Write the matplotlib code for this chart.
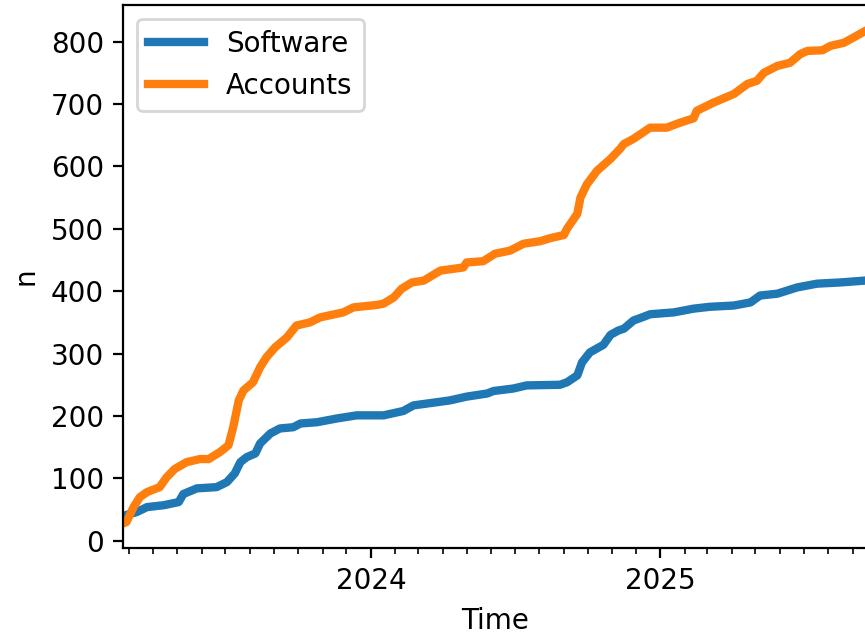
import matplotlib
matplotlib.use('Agg')
import matplotlib.pyplot as plt
import matplotlib.dates as mdates
import pandas as pd

# values (cumulative counts)
software_dates = ['2023-02-22', '2023-03-11', '2023-03-24', '2023-04-14', '2023-05-03',
                  '2023-05-09', '2023-05-26', '2023-06-20', '2023-07-03', '2023-07-13',
                  '2023-07-20', '2023-07-28', '2023-08-08', '2023-08-14', '2023-08-27',
                  '2023-09-08', '2023-09-25', '2023-10-04', '2023-10-25', '2023-11-19',
                  '2023-12-14', '2024-01-17', '2024-02-11', '2024-02-24', '2024-03-24',
                  '2024-04-10', '2024-05-01', '2024-05-27', '2024-06-04', '2024-06-29',
                  '2024-07-16', '2024-08-27', '2024-09-05', '2024-09-18', '2024-09-24',
                  '2024-10-04', '2024-10-21', '2024-10-30', '2024-11-09', '2024-11-16',
                  '2024-11-28', '2024-12-11', '2024-12-19', '2025-01-18', '2025-02-12',
                  '2025-03-05', '2025-04-04', '2025-04-25', '2025-05-07', '2025-05-29',
                  '2025-06-23', '2025-07-18', '2025-08-17', '2025-09-17', '2025-09-20']
software_n = [40, 46, 54, 57, 62,
              75, 84, 86, 94, 108,
              126, 134, 140, 156, 172,
              180, 182, 188, 190, 196,
              201, 201, 208, 217, 222,
              225, 231, 236, 240, 244,
              249, 250, 254, 265, 286,
              302, 314, 330, 337, 340,
              353, 359, 363, 366, 372,
              375, 377, 382, 393, 396,
              406, 412, 414, 417, 418]

accounts_dates = ['2023-02-22', '2023-02-26', '2023-03-07', '2023-03-15', '2023-03-24',
                  '2023-04-09', '2023-04-18', '2023-04-28', '2023-05-13', '2023-05-30',
                  '2023-06-10', '2023-06-24', '2023-07-05', '2023-07-11', '2023-07-18',
                  '2023-07-24', '2023-08-05', '2023-08-14', '2023-08-22', '2023-09-02',
                  '2023-09-17', '2023-09-29', '2023-10-16', '2023-10-29', '2023-11-27',
                  '2023-12-10', '2024-01-09', '2024-01-17', '2024-01-30', '2024-02-09',
                  '2024-02-22', '2024-03-08', '2024-03-29', '2024-04-27', '2024-05-01',
                  '2024-05-22', '2024-06-06', '2024-06-25', '2024-07-12', '2024-08-02',
                  '2024-08-15', '2024-09-01', '2024-09-05', '2024-09-18', '2024-09-22',
                  '2024-09-30', '2024-10-13', '2024-10-30', '2024-11-11', '2024-11-16',
                  '2024-11-28', '2024-12-19', '2025-01-09', '2025-01-26', '2025-02-12',
                  '2025-02-16', '2025-03-09', '2025-04-04', '2025-04-21', '2025-05-03',
                  '2025-05-12', '2025-05-29', '2025-06-14', '2025-06-27', '2025-07-06',
                  '2025-07-25', '2025-08-04', '2025-08-21', '2025-09-03', '2025-09-17',
                  '2025-09-20']
accounts_n = [28, 30, 54, 70, 78,
              86, 102, 115, 126, 131,
              131, 142, 153, 182, 225,
              241, 254, 278, 294, 310,
              326, 345, 350, 358, 366,
              374, 378, 380, 390, 404,
              414, 417, 433, 438, 446,
              448, 460, 465, 476, 480,
              485, 490, 500, 524, 550,
              571, 593, 612, 628, 636,
              644, 662, 662, 670, 677,
              689, 702, 716, 732, 737,
              750, 761, 766, 780, 785,
              786, 793, 798, 807, 817,
              819]

software_t = pd.to_datetime(software_dates)
accounts_t = pd.to_datetime(accounts_dates)

fig = plt.figure(figsize=(865 / 200, 632 / 200), dpi=200)
# axes runs a little past the right edge, like the cropped original
ax = fig.add_axes([0.1425, 0.1329, 0.8605, 0.8592])

ax.plot(software_t, software_n, color='tab:blue', lw=3, label='Software')
ax.plot(accounts_t, accounts_n, color='tab:orange', lw=3, label='Accounts')

ax.set_xlim(pd.Timestamp('2023-02-22'), pd.Timestamp('2025-09-20'))
ax.xaxis.set_major_locator(mdates.YearLocator())
ax.xaxis.set_major_formatter(mdates.DateFormatter('%Y'))
ax.xaxis.set_minor_locator(mdates.MonthLocator())

ax.set_xlabel('Time')
ax.set_ylabel('n')
ax.legend(loc='upper left')

fig.savefig('out.png', dpi=200)
